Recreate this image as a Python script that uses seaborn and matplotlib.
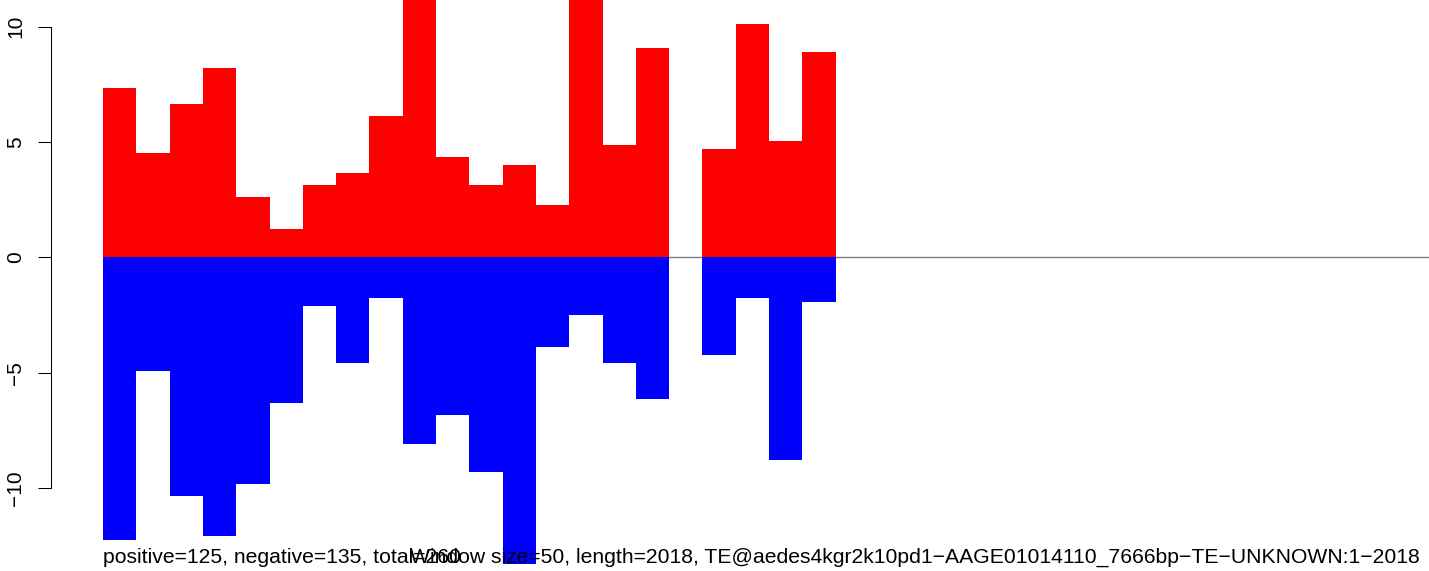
import numpy as np
import pandas as pd
import seaborn as sns
import matplotlib
matplotlib.use("Agg")
import matplotlib.pyplot as plt

# window starts (window size 50, length 2018)
window_start = list(range(0, 2050, 50))
positive = [7.34, 4.52, 6.64, 8.21, 2.61, 1.23, 3.13, 3.65, 6.12, 12.0, 4.35,
            3.13, 4.00, 2.27, 12.0, 4.87, 9.07, 0.0, 4.69, 10.12, 5.04, 8.90]
negative = [-12.25, -4.93, -10.35, -12.08, -9.83, -6.32, -2.11, -4.59, -1.76, -8.09, -6.84,
            -9.31, -13.3, -3.89, -2.50, -4.59, -6.15, 0.0, -4.23, -1.76, -8.81, -1.94]
positive = positive + [0.0] * (len(window_start) - len(positive))
negative = negative + [0.0] * (len(window_start) - len(negative))

info_text = "positive=125, negative=135, total=260"
title_text = "Window size=50, length=2018, TE@aedes4kgr2k10pd1\u2212AAGE01014110_7666bp\u2212TE\u2212UNKNOWN:1\u22122018"

df = pd.DataFrame({"start": [str(s) for s in window_start],
                   "pos": positive, "neg": negative})

sns.set_style("white")
plt.rcParams["font.family"] = ["Liberation Sans", "DejaVu Sans"]

fig = plt.figure(figsize=(14.29, 5.71), dpi=100)
ax = fig.add_axes([103 / 1429, 0, 1 - 103 / 1429, 1])

ax.axhline(0, color="#808080", lw=1, zorder=0)
sns.barplot(data=df, x="start", y="pos", color="#ff0000", width=1, linewidth=0,
            saturation=1, ax=ax, zorder=2)
sns.barplot(data=df, x="start", y="neg", color="#0000ff", width=1, linewidth=0,
            saturation=1, ax=ax, zorder=2)

ax.set_xlim(-0.5, -0.5 + 1326 / 33.3)
ax.set_ylim(-13.6, 11.15)
ax.set_xlabel("")
ax.set_ylabel("")
ax.set_xticks([])
for s in ["top", "right", "bottom"]:
    ax.spines[s].set_visible(False)
ax.spines["left"].set_position(("outward", 52 * 0.72))
ax.spines["left"].set_bounds(-10, 10)
ax.spines["left"].set_linewidth(0.75)
ax.spines["left"].set_color("black")
ax.set_yticks([-10, -5, 0, 5, 10])
ax.tick_params(axis="y", direction="out", length=13 * 0.72, width=0.75, color="black",
               pad=9, left=True, labelsize=15, labelcolor="black", labelrotation=90)
for lab in ax.get_yticklabels():
    lab.set_verticalalignment("center")
ax.patch.set_alpha(0)

fig.text(103 / 1429, 1 - 563 / 571, info_text, fontsize=15.2, va="baseline", ha="left",
         color="black", zorder=5)
fig.text(410 / 1429, 1 - 563 / 571, title_text, fontsize=15.2, va="baseline", ha="left",
         color="black", zorder=5)

fig.savefig("out.png", dpi=100)
